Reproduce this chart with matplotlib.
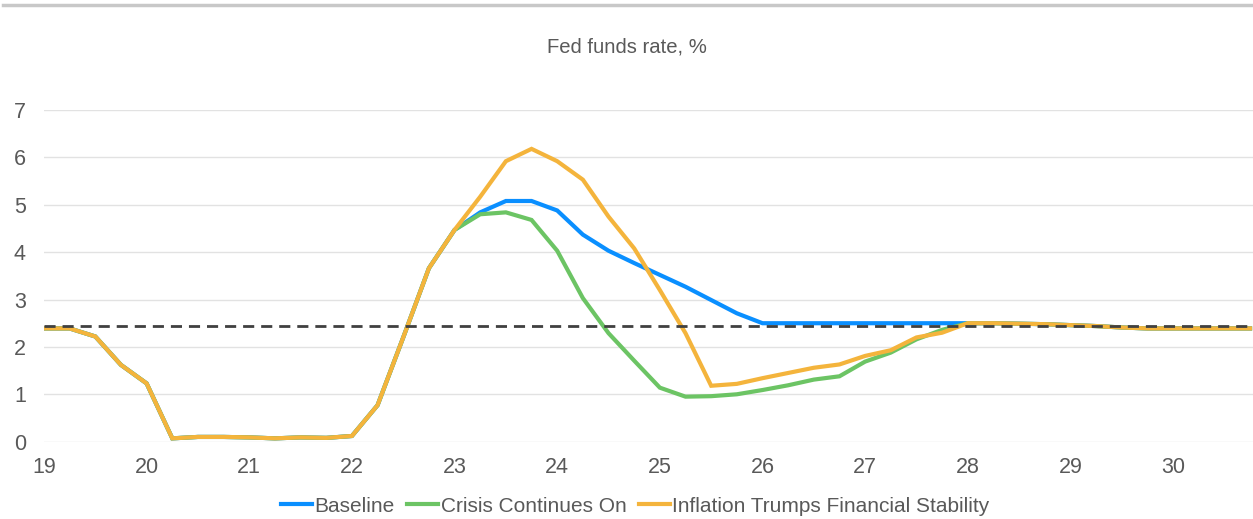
import numpy as np
import matplotlib.pyplot as plt
from matplotlib.lines import Line2D

plt.rcParams['font.family'] = ['Liberation Sans', 'DejaVu Sans']

# quarterly time axis, 2019 Q1 .. 2030 Q4 (labels are 2-digit years)
quarters = np.arange(19, 30.76, 0.25)

common = [2.39, 2.39, 2.22, 1.62, 1.23, 0.07, 0.10, 0.10, 0.09, 0.07, 0.09, 0.08,
          0.12, 0.77, 2.20, 3.66, 4.47]
tail = [2.50, 2.50, 2.49, 2.48, 2.46, 2.44, 2.41, 2.39, 2.39, 2.39, 2.39, 2.39]

baseline = common + [4.84, 5.08, 5.08, 4.88, 4.37, 4.03, 3.77, 3.52, 3.27, 2.99, 2.71,
                     2.50, 2.50, 2.50, 2.50, 2.50, 2.50, 2.50, 2.50] + tail
crisis = common + [4.80, 4.84, 4.68, 4.03, 3.03, 2.29, 1.71, 1.14, 0.95, 0.96, 1.00,
                   1.09, 1.19, 1.31, 1.38, 1.69, 1.88, 2.16, 2.36] + tail
inflation = common + [5.17, 5.92, 6.18, 5.92, 5.53, 4.75, 4.08, 3.20, 2.29, 1.18, 1.22,
                      1.34, 1.45, 1.56, 1.63, 1.81, 1.93, 2.20, 2.30] + tail
neutral_rate = 2.45

series_names = ['Baseline', 'Crisis Continues On', 'Inflation Trumps Financial Stability']
series_colors = ['#0A8FFF', '#6CC464', '#F4B43C']

fig = plt.figure(figsize=(12.53, 5.19), dpi=100)
ax = fig.add_axes([0.0351, 0.149, 0.965, 0.639])

for vals, name, col in zip([baseline, crisis, inflation], series_names, series_colors):
    ax.plot(quarters, vals, color=col, lw=3, label=name, solid_joinstyle='miter')

ax.axhline(neutral_rate, color='#404040', lw=2, ls=(0, (4, 2.5)), zorder=5)

ax.set_xlim(19, 30.78)
ax.set_ylim(0, 7)
ax.set_xticks(range(19, 31))
ax.set_yticks(range(0, 8))
ax.grid(axis='y', color='#E2E2E2', lw=1)
ax.set_axisbelow(True)
for s in ax.spines.values():
    s.set_visible(False)
ax.tick_params(length=0, labelsize=15.5, labelcolor='#595959')
ax.tick_params(axis='x', pad=11)
ax.tick_params(axis='y', pad=13)

fig.text(0.5, 0.91, 'Fed funds rate, %', ha='center', va='center', fontsize=14.6, color='#595959')

# thin gray rule at top of the figure
fig.add_artist(Line2D([0.002, 1], [0.99, 0.99], color='#C8C8C8', lw=2.5))

handles = [Line2D([], [], color=c, lw=3) for c in series_colors]
fig.legend(handles, series_names, loc='center', bbox_to_anchor=(0.507, 0.025), ncol=3,
           frameon=False, fontsize=15, labelcolor='#595959', handlelength=1.5,
           handletextpad=0.1, columnspacing=0.6)

fig.savefig('out.png', dpi=100)
